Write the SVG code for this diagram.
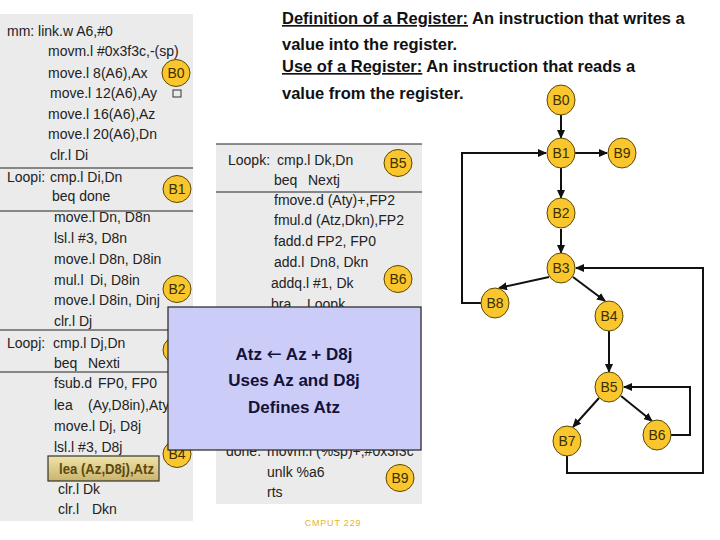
<svg xmlns="http://www.w3.org/2000/svg" width="720" height="540" viewBox="0 0 720 540">
<style>
  .code { font-family: "Liberation Sans", Arial, sans-serif; font-size: 14px; fill: #222; }
  .panel { fill: #ebebeb; }
  .sep { stroke: #222; stroke-width: 1.2; }
  .badge { fill: #fac62e; stroke: #5a4700; stroke-width: 1; }
  .blabel { font-family: "Liberation Sans", Arial, sans-serif; font-size: 14px; fill: #3a3000; text-anchor: middle; }
  .hdr { font-family: "Liberation Sans", Arial, sans-serif; font-size: 16.5px; font-weight: bold; fill: #111; }
  .note { font-family: "Liberation Sans", Arial, sans-serif; font-size: 17px; font-weight: bold; fill: #12123a; text-anchor: middle; }
  .edge { fill: none; stroke: #111; stroke-width: 2; }
</style>
<defs>
  <marker id="arr" markerWidth="9" markerHeight="8" refX="8" refY="4" orient="auto" markerUnits="userSpaceOnUse">
    <path d="M0,0 L9,4 L0,8 z" fill="#111"/>
  </marker>
  <linearGradient id="hl" x1="0" y1="0" x2="0" y2="1">
    <stop offset="0" stop-color="#f0e4ab"/>
    <stop offset="1" stop-color="#c9b46c"/>
  </linearGradient>
</defs>
<rect width="720" height="540" fill="#fff"/>

<!-- Header text -->
<g id="header">
  <text class="hdr" x="282" y="24"><tspan text-decoration="underline">Definition of a Register:</tspan> An instruction that writes a</text>
  <text class="hdr" x="282" y="50">value into the register.</text>
  <text class="hdr" x="282" y="72"><tspan text-decoration="underline">Use of a Register:</tspan> An instruction that reads a</text>
  <text class="hdr" x="282" y="99">value from the register.</text>
</g>

<!-- Left code panel -->
<g id="left-panel">
  <rect class="panel" x="0" y="14" width="193" height="507"/>
  <line class="sep" x1="0" y1="168" x2="193" y2="168"/>
  <line class="sep" x1="0" y1="211" x2="193" y2="211"/>
  <line class="sep" x1="0" y1="330" x2="193" y2="330"/>
  <line class="sep" x1="0" y1="372" x2="193" y2="372"/>
  <text class="code" x="7" y="36">mm: link.w A6,#0</text>
  <text class="code" x="48" y="56">movm.l #0x3f3c,-(sp)</text>
  <text class="code" x="48" y="78">move.l 8(A6),Ax</text>
  <text class="code" x="50" y="98">move.l 12(A6),Ay</text>
  <text class="code" x="48" y="119">move.l 16(A6),Az</text>
  <text class="code" x="48" y="139">move.l 20(A6),Dn</text>
  <text class="code" x="50" y="160">clr.l Di</text>
  <text class="code" x="7" y="182">Loopi:<tspan x="50">cmp.l Di,Dn</tspan></text>
  <text class="code" x="52" y="201">beq done</text>
  <text class="code" x="54" y="222">move.l Dn, D8n</text>
  <text class="code" x="54" y="243">lsl.l #3, D8n</text>
  <text class="code" x="54" y="264">move.l D8n, D8in</text>
  <text class="code" x="54" y="285">mul.l<tspan x="90">Di, D8in</tspan></text>
  <text class="code" x="54" y="305">move.l D8in, Dinj</text>
  <text class="code" x="54" y="326">clr.l Dj</text>
  <text class="code" x="7" y="348">Loopj:<tspan x="53">cmp.l Dj,Dn</tspan></text>
  <text class="code" x="54" y="368">beq<tspan x="88">Nexti</tspan></text>
  <text class="code" x="54" y="388">fsub.d<tspan x="98">FP0, FP0</tspan></text>
  <text class="code" x="54" y="410">lea<tspan x="88">(Ay,D8in),Aty</tspan></text>
  <text class="code" x="54" y="431">move.l Dj, D8j</text>
  <text class="code" x="54" y="452">lsl.l #3, D8j</text>
  <rect x="48" y="456" width="111" height="25" fill="url(#hl)" stroke="#333" stroke-width="1.2"/>
  <text class="code" x="59" y="474" textLength="95" lengthAdjust="spacingAndGlyphs" style="font-weight:bold;fill:#5a4810">lea (Az,D8j),Atz</text>
  <text class="code" x="58" y="494">clr.l Dk</text>
  <text class="code" x="58" y="514">clr.l<tspan x="92">Dkn</tspan></text>
  <rect x="173" y="90" width="8" height="7" fill="none" stroke="#333" stroke-width="1"/>
</g>

<g id="badge-B0"><ellipse class="badge" cx="176" cy="73" rx="14" ry="13.5"/><text class="blabel" x="176" y="78">B0</text></g>
<g id="badge-B1"><ellipse class="badge" cx="177" cy="189" rx="14" ry="13.5"/><text class="blabel" x="177" y="194">B1</text></g>
<g id="badge-B2"><ellipse class="badge" cx="177" cy="289" rx="14" ry="13.5"/><text class="blabel" x="177" y="294">B2</text></g>
<g id="badge-B3"><ellipse class="badge" cx="177" cy="350" rx="14" ry="13.5"/><text class="blabel" x="177" y="355">B3</text></g>
<g id="badge-B4"><ellipse class="badge" cx="177" cy="454" rx="14" ry="13.5"/><text class="blabel" x="177" y="459">B4</text></g>

<!-- Middle code panel -->
<g id="mid-panel">
  <rect class="panel" x="216" y="144" width="206" height="360"/>
  <line class="sep" x1="216" y1="144" x2="422" y2="144"/>
  <line class="sep" x1="216" y1="192" x2="422" y2="192"/>
  <text class="code" x="228" y="165">Loopk:<tspan x="277">cmp.l Dk,Dn</tspan></text>
  <text class="code" x="274" y="185">beq<tspan x="308">Nextj</tspan></text>
  <text class="code" x="274" y="205">fmove.d (Aty)+,FP2</text>
  <text class="code" x="274" y="225">fmul.d (Atz,Dkn),FP2</text>
  <text class="code" x="274" y="246">fadd.d FP2, FP0</text>
  <text class="code" x="274" y="267">add.l<tspan x="310">Dn8, Dkn</tspan></text>
  <text class="code" x="271" y="288">addq.l #1, Dk</text>
  <text class="code" x="271" y="309">bra<tspan x="307">Loopk</tspan></text>
  <text class="code" x="226" y="456">done:<tspan x="267">movm.l (%sp)+,#0x3f3c</tspan></text>
  <text class="code" x="267" y="477">unlk %a6</text>
  <text class="code" x="267" y="497">rts</text>
</g>
<g id="badge-B5"><ellipse class="badge" cx="398" cy="163" rx="14" ry="13.5"/><text class="blabel" x="398" y="168">B5</text></g>
<g id="badge-B6"><ellipse class="badge" cx="398" cy="279" rx="14" ry="13.5"/><text class="blabel" x="398" y="284">B6</text></g>
<g id="badge-B9"><ellipse class="badge" cx="400" cy="478" rx="14" ry="13.5"/><text class="blabel" x="400" y="483">B9</text></g>

<!-- Callout box -->
<g id="callout">
  <rect x="168" y="307" width="253" height="143" fill="#ccccf8" stroke="#222" stroke-width="1.2"/>
  <text class="note" x="294" y="360">Atz <tspan style="font-family:'DejaVu Sans',sans-serif;font-weight:normal;font-size:18px">←</tspan> Az + D8j</text>
  <text class="note" x="294" y="386">Uses Az and D8j</text>
  <text class="note" x="294" y="413">Defines Atz</text>
</g>

<!-- Control flow graph connectors -->
<g id="connectors">
  <path class="edge" d="M561,115 L561,138" marker-end="url(#arr)"/>
  <path class="edge" d="M575,153 L607,153" marker-end="url(#arr)"/>
  <path class="edge" d="M561,168 L561,198" marker-end="url(#arr)"/>
  <path class="edge" d="M561,229 L561,253" marker-end="url(#arr)"/>
  <path class="edge" d="M549,277 L499,288" marker-end="url(#arr)"/>
  <path class="edge" d="M573,277 L605,301" marker-end="url(#arr)"/>
  <path class="edge" d="M481,303 L462,303 L462,153 L546,153" marker-end="url(#arr)"/>
  <path class="edge" d="M609,331 L609,372" marker-end="url(#arr)"/>
  <path class="edge" d="M599,398 L573,427" marker-end="url(#arr)"/>
  <path class="edge" d="M621,396 L652,421" marker-end="url(#arr)"/>
  <path class="edge" d="M671,435 L690,435 L690,387 L624,387" marker-end="url(#arr)"/>
  <path class="edge" d="M567,456 L567,473 L703,473 L703,268 L576,268" marker-end="url(#arr)"/>
</g>

<!-- Control flow graph nodes -->
<g id="node-B0"><ellipse class="badge" cx="561" cy="100" rx="14" ry="15"/><text class="blabel" x="561" y="105">B0</text></g>
<g id="node-B1"><ellipse class="badge" cx="561" cy="153" rx="14" ry="15"/><text class="blabel" x="561" y="158">B1</text></g>
<g id="node-B9"><ellipse class="badge" cx="622" cy="153" rx="14" ry="15"/><text class="blabel" x="622" y="158">B9</text></g>
<g id="node-B2"><ellipse class="badge" cx="561" cy="213" rx="14" ry="15"/><text class="blabel" x="561" y="218">B2</text></g>
<g id="node-B3"><ellipse class="badge" cx="561" cy="268" rx="14" ry="15"/><text class="blabel" x="561" y="273">B3</text></g>
<g id="node-B8"><ellipse class="badge" cx="495" cy="303" rx="14" ry="15"/><text class="blabel" x="495" y="308">B8</text></g>
<g id="node-B4"><ellipse class="badge" cx="609" cy="316" rx="14" ry="15"/><text class="blabel" x="609" y="321">B4</text></g>
<g id="node-B5"><ellipse class="badge" cx="609" cy="387" rx="14" ry="15"/><text class="blabel" x="609" y="392">B5</text></g>
<g id="node-B7"><ellipse class="badge" cx="567" cy="441" rx="14" ry="15"/><text class="blabel" x="567" y="446">B7</text></g>
<g id="node-B6"><ellipse class="badge" cx="657" cy="435" rx="14" ry="15"/><text class="blabel" x="657" y="440">B6</text></g>

<text x="333" y="526" font-family="'Liberation Sans', Arial, sans-serif" font-size="9" fill="#e6b522" text-anchor="middle" letter-spacing="0.8">CMPUT 229</text>
</svg>
